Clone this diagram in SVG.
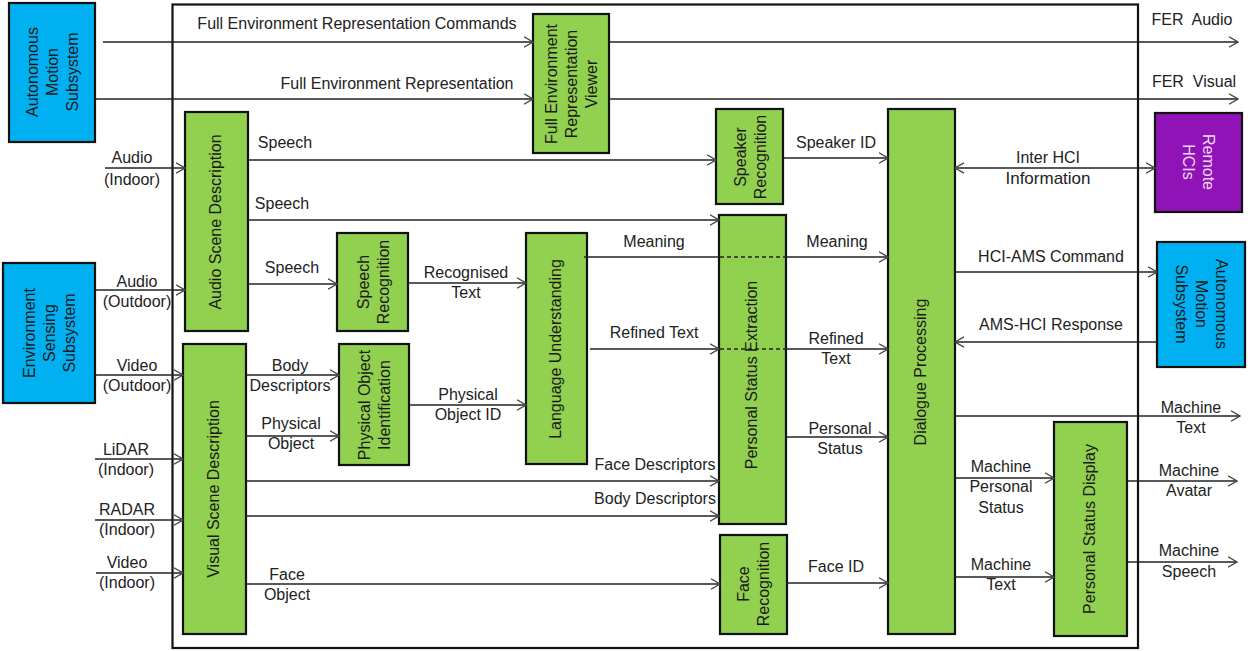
<svg xmlns="http://www.w3.org/2000/svg" width="1248" height="651" viewBox="0 0 1248 651">
  <style>
    text { font-family: "Liberation Sans", Arial, sans-serif; font-size: 16px; fill: #222; }
    .lbl { text-anchor: middle; }
    .box { stroke: #111; stroke-width: 2.2; }
    .green { fill: #92D050; }
    .blue { fill: #00B0F0; }
    .purple { fill: #9013B8; }
    .btxt { text-anchor: middle; font-size: 16px; fill: #1a1a1a; }
    .wtxt { text-anchor: middle; font-size: 16px; fill: #f4d8f6; }
    .conn { stroke: #222; stroke-width: 1.4; fill: none; }
    .arrow { marker-end: url(#head); }
    .dash { stroke: #222; stroke-width: 1.4; stroke-dasharray: 4 3; fill: none; }
  </style>
  <defs>
    <marker id="head" viewBox="0 0 10 12" markerWidth="10" markerHeight="12" refX="9.5" refY="6" orient="auto-start-reverse" markerUnits="userSpaceOnUse">
      <path d="M0.5,0.8 L9.5,6 L0.5,11.2" fill="none" stroke="#444" stroke-width="1.4"/>
    </marker>
  </defs>

  <rect width="1248" height="651" fill="#fff"/>

  <!-- system boundary -->
  <rect id="frame" x="172.5" y="4.5" width="965.5" height="643.5" fill="none" stroke="#111" stroke-width="2.2"/>

  <!-- external subsystems -->
  <g id="ams-left">
    <rect class="box blue" x="9" y="3" width="86" height="139"/>
    <text class="btxt" transform="rotate(-90 52 72)" x="52" y="72"><tspan x="52" dy="-14.5">Autonomous</tspan><tspan x="52" dy="20">Motion</tspan><tspan x="52" dy="20">Subsystem</tspan></text>
  </g>
  <g id="ess">
    <rect class="box blue" x="3" y="263" width="92" height="140"/>
    <text class="btxt" transform="rotate(-90 49 333)" x="49" y="333"><tspan x="49" dy="-14.5">Environment</tspan><tspan x="49" dy="20">Sensing</tspan><tspan x="49" dy="20">Subsystem</tspan></text>
  </g>
  <g id="remote-hcis">
    <rect class="box purple" x="1155" y="113" width="87" height="99"/>
    <text class="wtxt" transform="rotate(90 1198 162)" x="1198" y="162"><tspan x="1198" dy="-4.5">Remote</tspan><tspan x="1198" dy="20">HCIs</tspan></text>
  </g>
  <g id="ams-right">
    <rect class="box blue" x="1157" y="242" width="88" height="125"/>
    <text class="btxt" transform="rotate(90 1201 304)" x="1201" y="304"><tspan x="1201" dy="-14.5">Autonomous</tspan><tspan x="1201" dy="20">Motion</tspan><tspan x="1201" dy="20">Subsystem</tspan></text>
  </g>

  <!-- processing modules -->
  <g id="fer-viewer">
    <rect class="box green" x="533" y="14" width="76" height="139"/>
    <text class="btxt" transform="rotate(-90 571 84)" x="571" y="84"><tspan x="571" dy="-14.5">Full Environment</tspan><tspan x="571" dy="20">Representation</tspan><tspan x="571" dy="20">Viewer</tspan></text>
  </g>
  <g id="audio-scene">
    <rect class="box green" x="185" y="112" width="63" height="219"/>
    <text class="btxt" transform="rotate(-90 216 222)" x="216" y="227">Audio Scene Description</text>
  </g>
  <g id="visual-scene">
    <rect class="box green" x="183" y="344" width="63" height="290"/>
    <text class="btxt" transform="rotate(-90 214 489)" x="214" y="494">Visual Scene Description</text>
  </g>
  <g id="speaker-recognition">
    <rect class="box green" x="716" y="109" width="67" height="95"/>
    <text class="btxt" transform="rotate(-90 750 157)" x="750" y="157"><tspan x="750" dy="-4.5">Speaker</tspan><tspan x="750" dy="20">Recognition</tspan></text>
  </g>
  <g id="speech-recognition">
    <rect class="box green" x="337" y="233" width="71" height="98"/>
    <text class="btxt" transform="rotate(-90 373 282)" x="373" y="282"><tspan x="373" dy="-4.5">Speech</tspan><tspan x="373" dy="20">Recognition</tspan></text>
  </g>
  <g id="physical-object-identification">
    <rect class="box green" x="339" y="344" width="70" height="121"/>
    <text class="btxt" transform="rotate(-90 374 405)" x="374" y="405"><tspan x="374" dy="-4.5">Physical Object</tspan><tspan x="374" dy="20">Identification</tspan></text>
  </g>
  <g id="language-understanding">
    <rect class="box green" x="526" y="233" width="61" height="231"/>
    <text class="btxt" transform="rotate(-90 556 349)" x="556" y="354">Language Understanding</text>
  </g>
  <g id="personal-status-extraction">
    <rect class="box green" x="719" y="215" width="67" height="309"/>
    <text class="btxt" transform="rotate(-90 752 375)" x="752" y="380">Personal Status Extraction</text>
  </g>
  <g id="face-recognition">
    <rect class="box green" x="720" y="535" width="67" height="99"/>
    <text class="btxt" transform="rotate(-90 753 584)" x="753" y="584"><tspan x="753" dy="-4.5">Face</tspan><tspan x="753" dy="20">Recognition</tspan></text>
  </g>
  <g id="dialogue-processing">
    <rect class="box green" x="888" y="109" width="67" height="525"/>
    <text class="btxt" transform="rotate(-90 921 372)" x="921" y="377">Dialogue Processing</text>
  </g>
  <g id="personal-status-display">
    <rect class="box green" x="1054" y="422" width="73" height="214"/>
    <text class="btxt" transform="rotate(-90 1090 529)" x="1090" y="534">Personal Status Display</text>
  </g>

  <!-- connectors (drawn last so the pass-through dashes sit over the extraction block) -->
  <g id="connectors">
    <path class="conn arrow" d="M103,42 H533"/>
    <path class="conn arrow" d="M95,99 H533"/>
    <path class="conn arrow" d="M609,42 H1238"/>
    <path class="conn arrow" d="M609,99 H1238"/>
    <path class="conn arrow" d="M105,168 H185"/>
    <path class="conn arrow" d="M95,290 H185"/>
    <path class="conn arrow" d="M95,375 H183"/>
    <path class="conn arrow" d="M95,459 H183"/>
    <path class="conn arrow" d="M95,520 H183"/>
    <path class="conn arrow" d="M96,573 H183"/>
    <path class="conn arrow" d="M248,160 H716"/>
    <path class="conn arrow" d="M248,220 H719"/>
    <path class="conn arrow" d="M248,284 H337"/>
    <path class="conn arrow" d="M783,158 H888"/>
    <path class="conn arrow" d="M955,168 H1155" marker-start="url(#head)"/>
    <path class="conn arrow" d="M408,283 H526"/>
    <path class="conn arrow" d="M409,405 H526"/>
    <path class="conn" d="M584,257 H719"/>
    <path class="dash" d="M720,257 H786"/>
    <path class="conn arrow" d="M786,257 H888"/>
    <path class="conn arrow" d="M590,349 H719"/>
    <path class="dash" d="M720,349 H786"/>
    <path class="conn arrow" d="M786,349 H888"/>
    <path class="conn arrow" d="M786,437 H888"/>
    <path class="conn arrow" d="M246,375 H339"/>
    <path class="conn arrow" d="M246,436 H339"/>
    <path class="conn arrow" d="M246,481 H719"/>
    <path class="conn arrow" d="M246,516 H719"/>
    <path class="conn arrow" d="M246,584 H720"/>
    <path class="conn arrow" d="M787,583 H888"/>
    <path class="conn arrow" d="M955,272 H1157"/>
    <path class="conn arrow" d="M1157,342 H955"/>
    <path class="conn arrow" d="M955,416 H1240"/>
    <path class="conn arrow" d="M955,478 H1054"/>
    <path class="conn arrow" d="M955,577 H1054"/>
    <path class="conn arrow" d="M1127,481 H1237"/>
    <path class="conn arrow" d="M1127,562 H1237"/>
  </g>

  <!-- connector labels -->
  <g id="labels">
    <text class="lbl" x="357" y="29">Full Environment Representation Commands</text>
    <text class="lbl" x="397" y="89">Full Environment Representation</text>
    <text class="lbl" x="1192" y="25">FER&#160; Audio</text>
    <text class="lbl" x="1194" y="87">FER&#160; Visual</text>
    <text class="lbl" x="132" y="163">Audio</text>
    <text class="lbl" x="132" y="185">(Indoor)</text>
    <text class="lbl" x="137" y="287">Audio</text>
    <text class="lbl" x="137" y="307">(Outdoor)</text>
    <text class="lbl" x="137" y="371">Video</text>
    <text class="lbl" x="137" y="391">(Outdoor)</text>
    <text class="lbl" x="126" y="455">LiDAR</text>
    <text class="lbl" x="126" y="475">(Indoor)</text>
    <text class="lbl" x="127" y="515">RADAR</text>
    <text class="lbl" x="127" y="535">(Indoor)</text>
    <text class="lbl" x="127" y="568">Video</text>
    <text class="lbl" x="127" y="588">(Indoor)</text>
    <text class="lbl" x="285" y="148">Speech</text>
    <text class="lbl" x="282" y="209">Speech</text>
    <text class="lbl" x="292" y="273">Speech</text>
    <text class="lbl" x="836" y="148">Speaker ID</text>
    <text class="lbl" x="1048" y="163">Inter HCI</text>
    <text class="lbl" x="1048" y="184" style="font-size:17px">Information</text>
    <text class="lbl" x="466" y="278">Recognised</text>
    <text class="lbl" x="466" y="298">Text</text>
    <text class="lbl" x="468" y="400">Physical</text>
    <text class="lbl" x="468" y="420">Object ID</text>
    <text class="lbl" x="654" y="247">Meaning</text>
    <text class="lbl" x="837" y="247">Meaning</text>
    <text class="lbl" x="654" y="338">Refined Text</text>
    <text class="lbl" x="836" y="344">Refined</text>
    <text class="lbl" x="836" y="364">Text</text>
    <text class="lbl" x="840" y="434">Personal</text>
    <text class="lbl" x="840" y="454">Status</text>
    <text class="lbl" x="290" y="371">Body</text>
    <text class="lbl" x="290" y="391">Descriptors</text>
    <text class="lbl" x="291" y="429">Physical</text>
    <text class="lbl" x="291" y="449">Object</text>
    <text class="lbl" x="655" y="470">Face Descriptors</text>
    <text class="lbl" x="655" y="504">Body Descriptors</text>
    <text class="lbl" x="287" y="580">Face</text>
    <text class="lbl" x="287" y="600">Object</text>
    <text class="lbl" x="836" y="572">Face ID</text>
    <text class="lbl" x="1051" y="262">HCI-AMS Command</text>
    <text class="lbl" x="1051" y="330">AMS-HCI Response</text>
    <text class="lbl" x="1191" y="413">Machine</text>
    <text class="lbl" x="1191" y="433">Text</text>
    <text class="lbl" x="1001" y="472">Machine</text>
    <text class="lbl" x="1001" y="492">Personal</text>
    <text class="lbl" x="1001" y="513">Status</text>
    <text class="lbl" x="1001" y="570">Machine</text>
    <text class="lbl" x="1001" y="590">Text</text>
    <text class="lbl" x="1189" y="476">Machine</text>
    <text class="lbl" x="1189" y="496">Avatar</text>
    <text class="lbl" x="1189" y="556">Machine</text>
    <text class="lbl" x="1189" y="577">Speech</text>
  </g>
</svg>
